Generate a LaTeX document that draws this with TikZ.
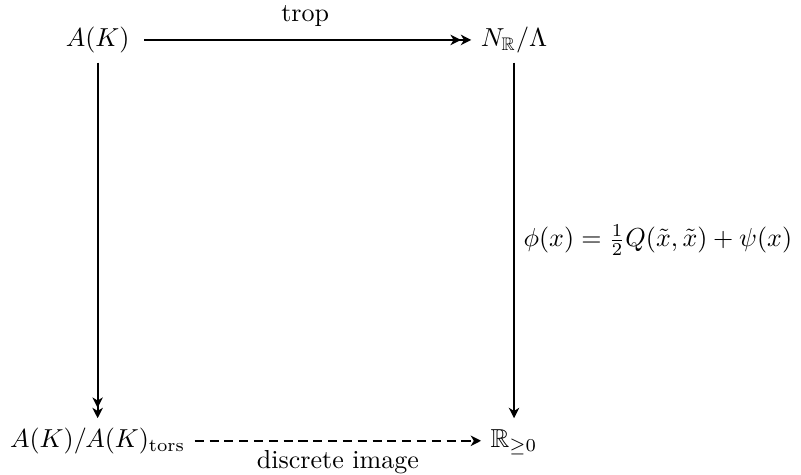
\documentclass[tikz,border=0pt]{standalone}
\usepackage{amsmath,amssymb}
\usetikzlibrary{arrows.meta}
\begin{document}
\begin{tikzpicture}[>={Stealth[length=4pt, width=4pt, inset=1.2pt]}, line width=0.7pt,
    obj/.style={text height=7.5pt, text depth=2.5pt}]
    \useasboundingbox (0,0) rectangle (10.83,6.41);
    % Các đối tượng
    \node[obj] (AK) at (1.32,5.87) {$A(K)$};
    \node[obj] (NL) at (6.95,5.87) {$N_{\mathbb{R}}/\Lambda$};
    \node[obj] (AT) at (1.32,0.45) {$A(K)/A(K)_{\mathrm{tors}}$};
    \node[obj] (RP) at (6.95,0.45) {$\mathbb{R}_{\geq 0}$};
    
    % Các mũi tên
    \draw[->>, shorten <=2pt] (AK) -- (NL) node[midway, above=1.5pt] {trop};
    \draw[->>] (AK) -- (AT);
    \draw[->] (NL) -- (RP)
       node[midway, right] {$\phi(x) = \frac{1}{2}Q(\tilde{x},\tilde{x}) + \psi(x)$};
    \draw[->, dash pattern=on 3.5pt off 2.2pt] (AT) -- (RP)
       node[midway, below] {discrete image};
\end{tikzpicture}
\end{document}
